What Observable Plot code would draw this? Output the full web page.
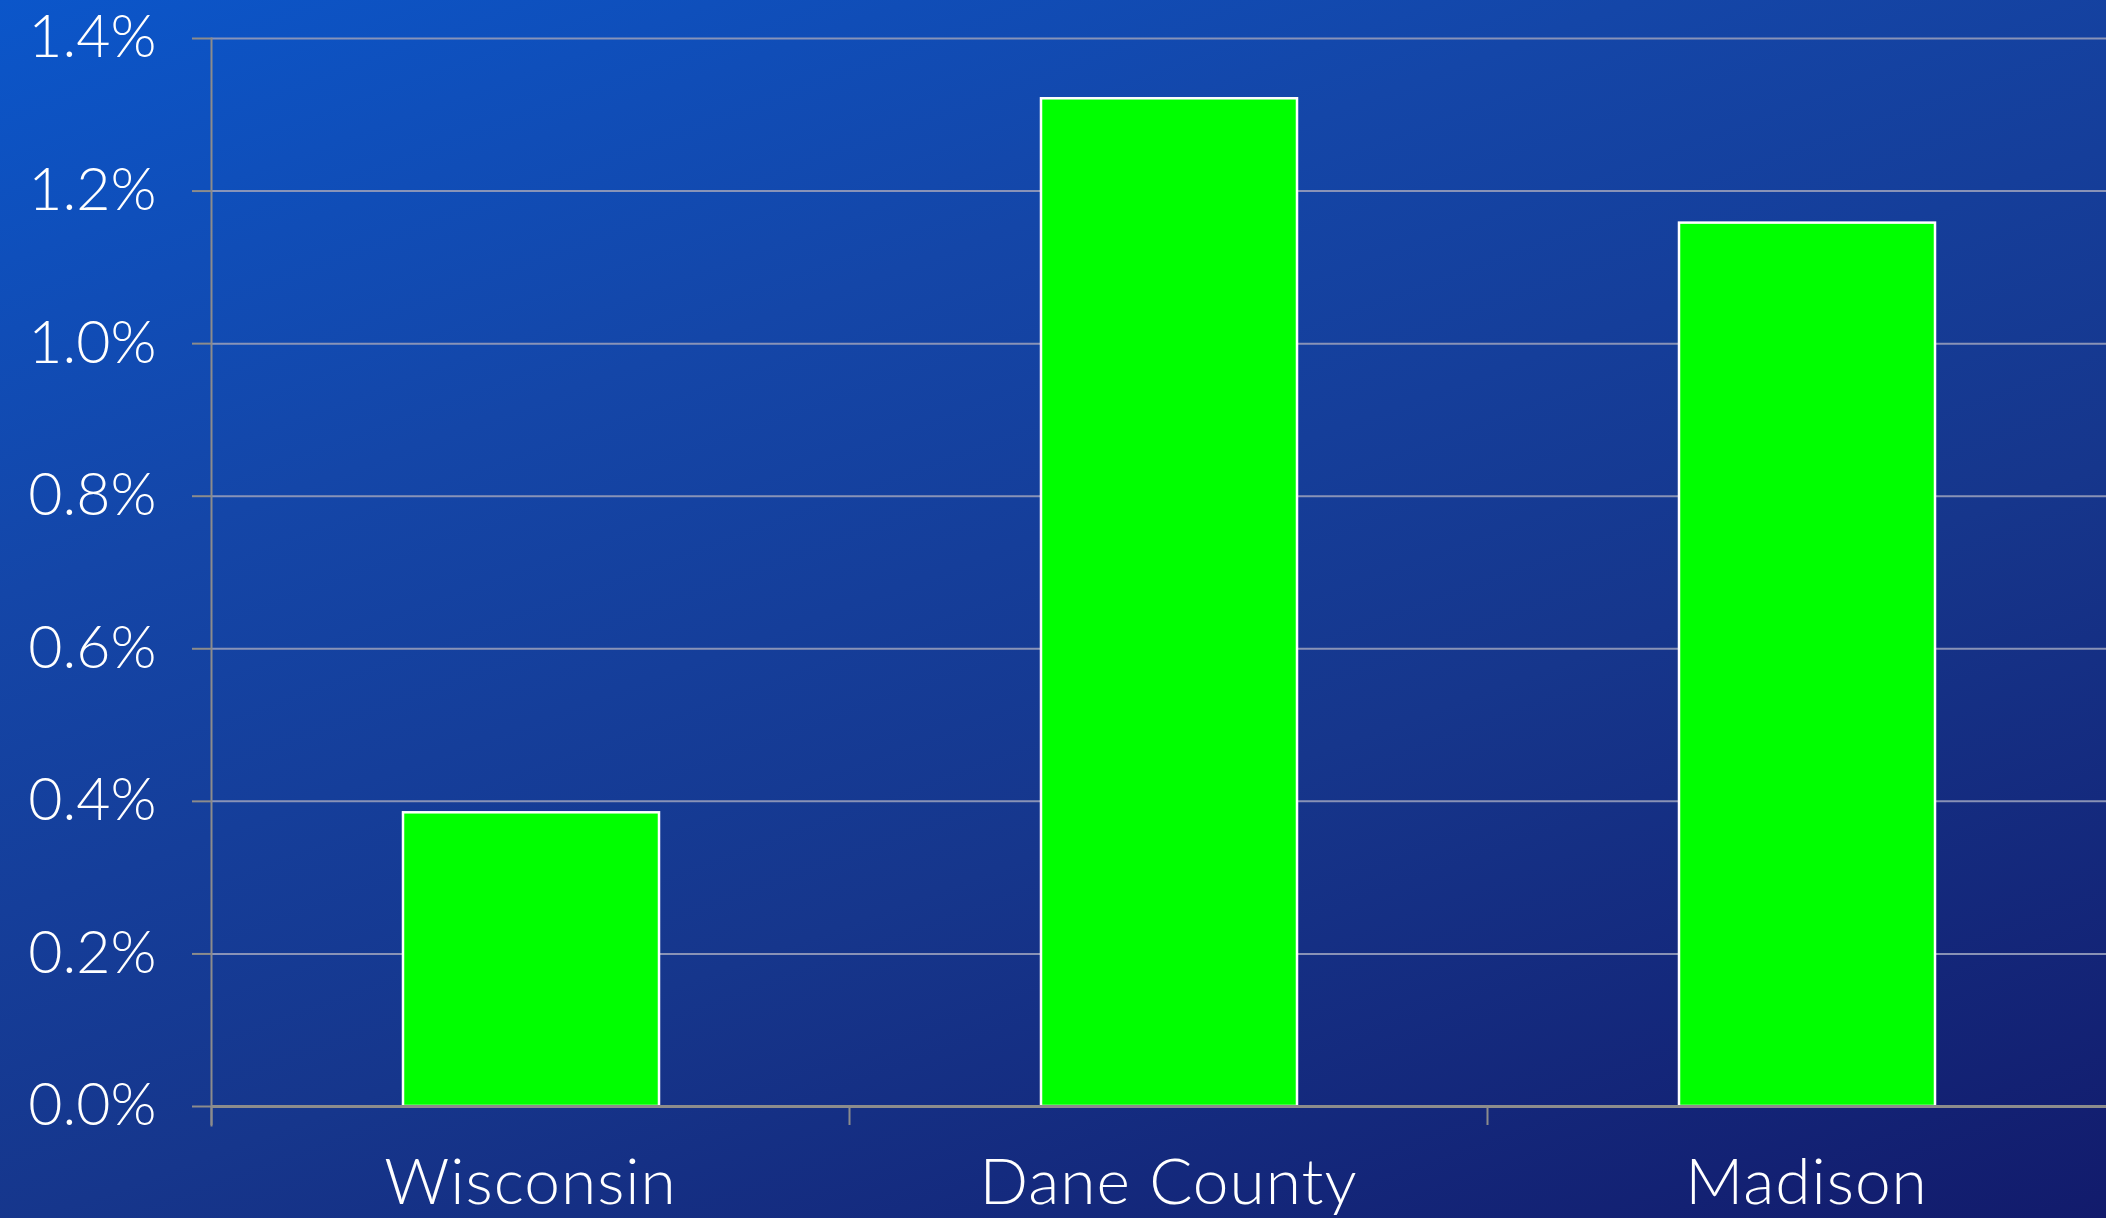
<!DOCTYPE html>
<html><head><meta charset="utf-8">
<script src="https://cdn.jsdelivr.net/npm/d3@7"></script>
<script src="https://cdn.jsdelivr.net/npm/@observablehq/plot@0.6"></script>
<style>
html,body{margin:0;padding:0;}
body{width:2106px;height:1218px;overflow:hidden;background:linear-gradient(160deg,#0b56ca 0%,#1446a8 30%,#16368c 62%,#121b6c 100%);}
#chart svg{display:block;}
</style></head><body><div id="chart"></div>
<script>
const regions = ["Wisconsin", "Dane County", "Madison"];
const values = [0.385, 1.321, 1.158];
const yTicks = [0, 0.2, 0.4, 0.6, 0.8, 1.0, 1.2, 1.4];
const data = regions.map((r, i) => ({region: r, value: values[i]}));

const W = 2106, H = 1218;
const xRange = [211, 2125];
const step = (xRange[1] - xRange[0]) / regions.length;
const axisGray = "#8c8c8c";

const chart = Plot.plot({
  width: W, height: H,
  marginLeft: 211, marginRight: 0, marginTop: 38, marginBottom: 112,
  style: {background: "transparent", color: "white", fontFamily: "Lato, 'Open Sans', sans-serif", fontWeight: 300, overflow: "visible"},
  x: {domain: regions, range: xRange, padding: 0, label: null},
  y: {domain: [0, 1.4], label: null},
  marks: [
    Plot.ruleY(yTicks.slice(1), {stroke: "#8f98b8", strokeWidth: 2, strokeOpacity: 0.95}),
    Plot.axisY({ticks: yTicks, tickSize: 19, tickPadding: 36, tickFormat: d => d.toFixed(1) + "%", stroke: axisGray, strokeWidth: 2, strokeOpacity: 1, fontSize: 59, label: null}),
    Plot.frame({anchor: "left", stroke: axisGray, strokeWidth: 2, insetBottom: -19}),
    Plot.barY(data, {x: "region", y: "value", fill: "#00ff00", stroke: "white", strokeWidth: 2.5, insetLeft: 192, insetRight: 190}),
    Plot.ruleY([0], {stroke: axisGray, strokeWidth: 3}),
    Plot.ruleX(regions, {x: d => d, y1: 0, y2: 0, insetBottom: -19, dx: -step / 2, stroke: axisGray, strokeWidth: 2}),
    Plot.axisX({tickSize: 0, tickPadding: 52, fontSize: 64, label: null})
  ]
});
d3.select(chart).selectAll("g[aria-label='x-axis tick label'] text").style("letter-spacing", "1px");
document.getElementById("chart").appendChild(chart);
</script>
</body></html>
